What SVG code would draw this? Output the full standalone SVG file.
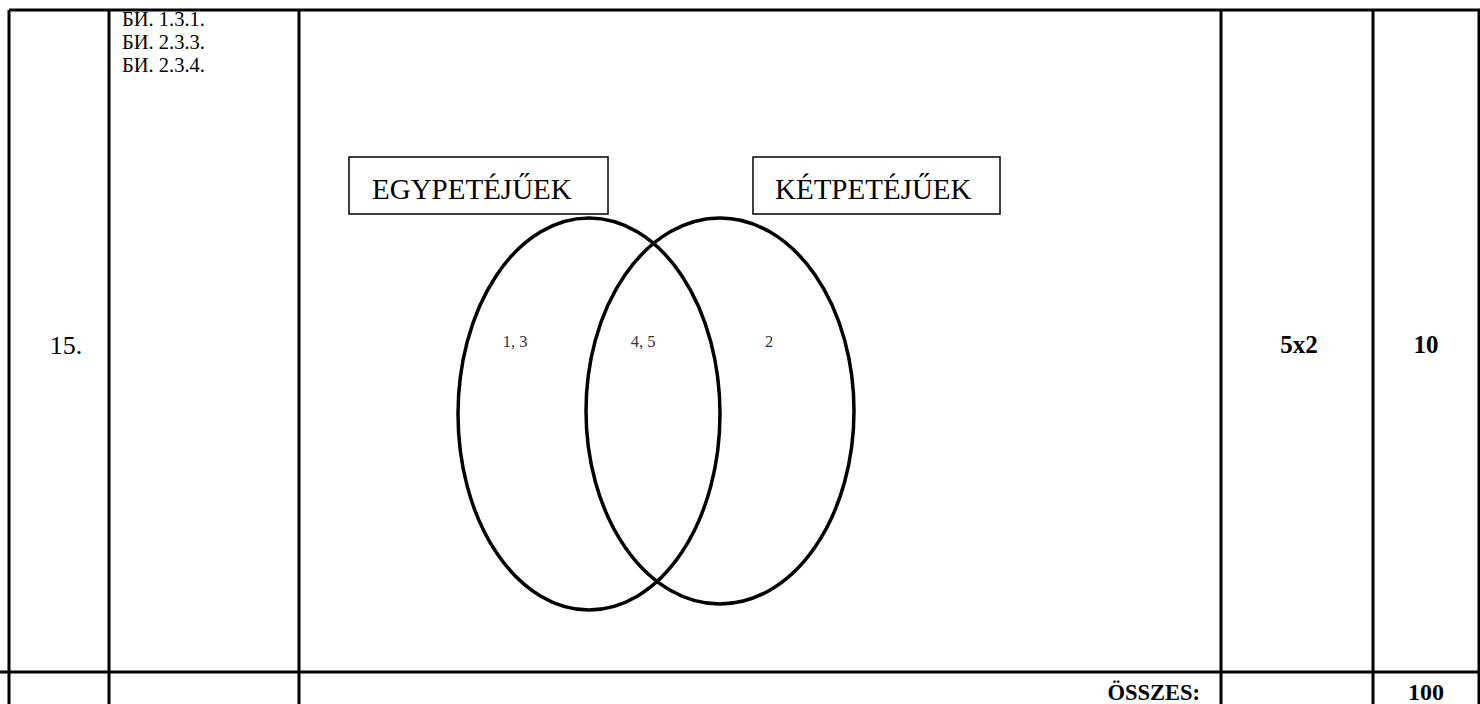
<svg xmlns="http://www.w3.org/2000/svg" width="1480" height="704" viewBox="0 0 1480 704">
<style>
.grid{stroke:#000;stroke-width:3;fill:none}
.t{font-family:"Liberation Serif","Times New Roman",serif;fill:#000}
.b{font-weight:bold}
.box{fill:#fff;stroke:#000;stroke-width:1.5}
.ring{fill:none;stroke:#000;stroke-width:3.5}
.v{font-size:16.5px;fill:#333}
.lbl{font-size:29px}
.code{font-size:20.5px}
</style>
<rect width="1480" height="704" fill="#fff"/>
<g id="table">
<line class="grid" x1="9" y1="10" x2="1480" y2="10"/>
<line class="grid" x1="0" y1="672" x2="1480" y2="672"/>
<line class="grid" x1="9" y1="10" x2="9" y2="704"/>
<line class="grid" x1="109" y1="10" x2="109" y2="704"/>
<line class="grid" x1="299" y1="10" x2="299" y2="704"/>
<line class="grid" x1="1221" y1="10" x2="1221" y2="704"/>
<line class="grid" x1="1373" y1="10" x2="1373" y2="704"/>
<line class="grid" x1="1479" y1="10" x2="1479" y2="704"/>
</g>
<g id="codes">
<text class="t code" x="122" y="26">БИ. 1.3.1.</text>
<text class="t code" x="122" y="49">БИ. 2.3.3.</text>
<text class="t code" x="122" y="72">БИ. 2.3.4.</text>
</g>
<text id="num" class="t" x="66" y="354" font-size="26" text-anchor="middle">15.</text>
<text id="pts" class="t b" x="1299" y="353" font-size="25" text-anchor="middle">5x2</text>
<text id="score" class="t b" x="1426" y="353" font-size="25" text-anchor="middle">10</text>
<text id="total-label" class="t b" x="1200" y="700" font-size="22.5" text-anchor="end">ÖSSZES:</text>
<text id="total" class="t b" x="1426" y="700" font-size="24" text-anchor="middle">100</text>
<g id="venn">
<g id="box-egy">
<rect class="box" x="349" y="157" width="259" height="57"/>
<text class="t lbl" x="372" y="199">EGYPETÉJŰEK</text>
</g>
<g id="box-ket">
<rect class="box" x="753" y="157" width="247" height="57"/>
<text class="t lbl" x="775" y="199">KÉTPETÉJŰEK</text>
</g>
<g id="set-left">
<ellipse class="ring" cx="589" cy="414" rx="131" ry="196"/>
</g>
<g id="set-right">
<ellipse class="ring" cx="720" cy="411" rx="134" ry="193"/>
</g>
<text class="t v" x="515" y="347" text-anchor="middle">1, 3</text>
<text class="t v" x="643" y="347" text-anchor="middle">4, 5</text>
<text class="t v" x="769" y="347" text-anchor="middle">2</text>
</g>
</svg>
